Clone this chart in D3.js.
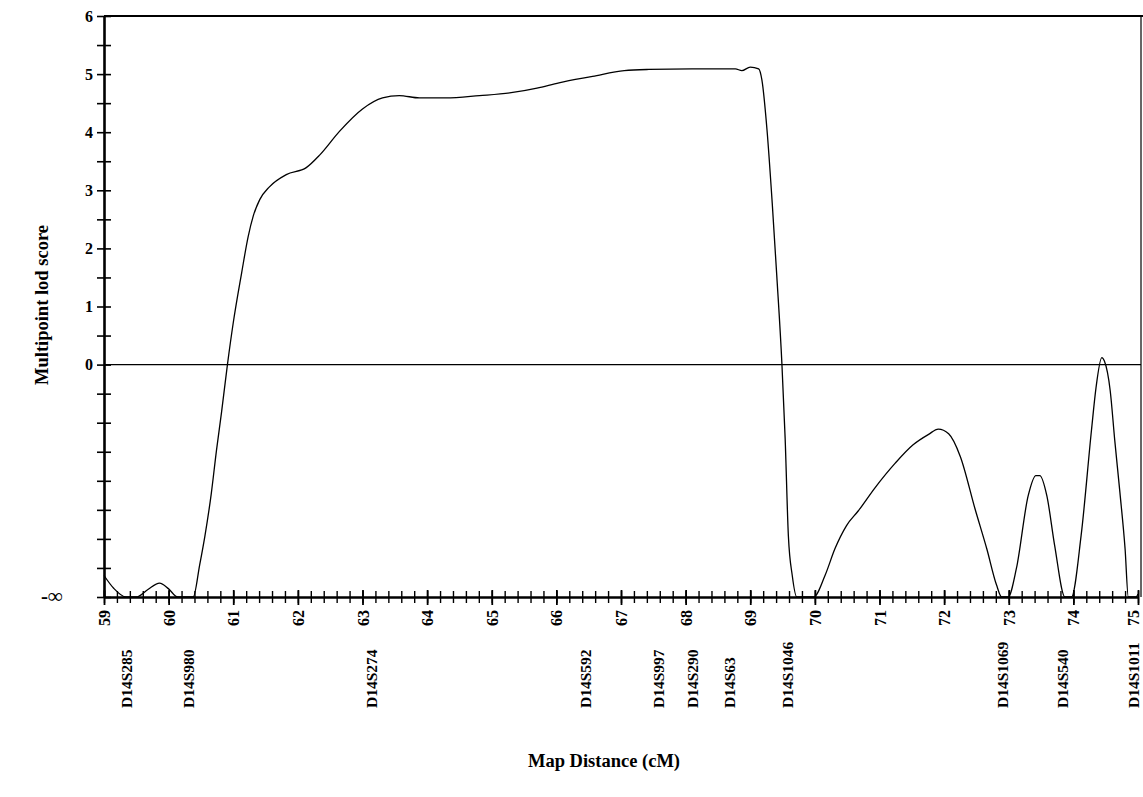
<!DOCTYPE html>
<html><head><meta charset="utf-8">
<script src="https://cdn.jsdelivr.net/npm/d3@7"></script>
<style>
body{margin:0;background:#fff}
text{font-family:"Liberation Serif","Times New Roman",serif;font-weight:bold;fill:#000}
</style>
</head><body><svg id="c" width="1143" height="797"></svg>
<script>
// Map positions (cM) and multipoint LOD scores; -Infinity marks the "-∞" floor
const positions = [59.00,59.15,59.34,59.50,59.68,59.86,60.00,60.14,60.38,60.48,60.56,60.66,60.74,60.82,60.91,61.00,61.13,61.23,61.31,61.41,61.56,61.82,62.13,62.34,62.64,63.00,63.31,63.57,63.88,64.29,64.81,65.30,65.70,66.04,66.56,67.05,67.43,68.10,68.77,68.87,69.00,69.13,69.18,69.26,69.34,69.41,69.49,69.54,69.59,69.65,69.72,69.98,70.16,70.31,70.49,70.67,70.93,71.24,71.52,71.76,71.91,72.07,72.25,72.48,72.66,72.81,72.89,72.99,73.12,73.30,73.42,73.48,73.59,73.71,73.87,73.97,74.12,74.28,74.35,74.44,74.48,74.57,74.64,74.72,74.80,74.85,74.97,75.00];
const lodScores = [-3.63,-3.85,-Infinity,-Infinity,-3.87,-3.76,-3.86,-Infinity,-Infinity,-3.45,-2.96,-2.22,-1.48,-0.81,0.00,0.72,1.58,2.20,2.56,2.84,3.06,3.27,3.39,3.61,4.01,4.40,4.59,4.63,4.59,4.59,4.63,4.68,4.76,4.85,4.96,5.06,5.08,5.09,5.09,5.06,5.12,5.09,4.90,4.03,2.78,1.54,0.01,-1.27,-2.95,-3.63,-Infinity,-Infinity,-3.62,-3.17,-2.77,-2.52,-2.12,-1.70,-1.38,-1.20,-1.11,-1.19,-1.58,-2.49,-3.17,-3.79,-Infinity,-Infinity,-3.50,-2.26,-1.91,-1.91,-2.26,-3.11,-Infinity,-Infinity,-2.94,-1.13,-0.40,0.12,0.06,-0.45,-1.30,-2.20,-3.17,-Infinity,-Infinity,-3.95];
const xTickLabels = [59,60,61,62,63,64,65,66,67,68,69,70,71,72,73,74,75];
const yTickLabels = [0,1,2,3,4,5,6];
const markerNames = ["D14S285","D14S980","D14S274","D14S592","D14S997","D14S290","D14S63","D14S1046","D14S1069","D14S540","D14S1011"];
const markerPositions = [59.35,60.31,63.14,66.45,67.58,68.11,68.68,69.58,72.90,73.83,74.93];

const FLOOR = -4;
const FONT = '"Liberation Serif","Times New Roman",serif';
const svg = d3.select("#c");
const x = d3.scaleLinear().domain([59, 75]).range([104, 1138]);
const y = d3.scaleLinear().domain([FLOOR, 6]).range([597, 16]);

// frame: top and right
svg.append("line").attr("x1", 104).attr("x2", 1143).attr("y1", y(6)).attr("y2", y(6))
  .attr("stroke", "#000").attr("stroke-width", 2.2);
svg.append("line").attr("x1", 1141).attr("x2", 1141).attr("y1", y(6)).attr("y2", y(FLOOR))
  .attr("stroke", "#000").attr("stroke-width", 1.2);

// zero line
svg.append("line").attr("x1", x(59)).attr("x2", 1141).attr("y1", y(0)).attr("y2", y(0))
  .attr("stroke", "#000").attr("stroke-width", 1.2);

// y axis
const yAxis = d3.axisLeft(y)
  .tickValues(d3.range(FLOOR, 6.001, 0.5))
  .tickSizeOuter(0).tickSize(0)
  .tickFormat(d => d === FLOOR ? "-\u221E" : (yTickLabels.includes(d) ? d : ""));
const gy = svg.append("g").attr("transform", `translate(${x(59)},0)`).call(yAxis);
gy.select(".domain").attr("stroke-width", 2.6).attr("stroke", "#000");
gy.selectAll(".tick line").attr("x1", -7).attr("x2", 7).attr("stroke-width", 1.6).attr("stroke", "#000");
gy.selectAll(".tick text").attr("x", -11).attr("font-size", 16)
  .style("font-family", FONT).style("font-weight", "bold");
gy.selectAll(".tick text").filter(d => d === FLOOR).attr("x", -41).attr("dy", "0.25em").attr("font-size", 21);

// x axis minor ticks
const xMinor = d3.axisBottom(x).tickValues(d3.range(59, 75.001, 0.2)).tickSizeOuter(0).tickSize(0).tickFormat("");
const gxm = svg.append("g").attr("transform", `translate(0,${y(FLOOR)})`).call(xMinor);
gxm.select(".domain").attr("stroke-width", 2.6).attr("stroke", "#000");
gxm.selectAll(".tick line").attr("y1", -6).attr("y2", 6).attr("stroke-width", 1.4).attr("stroke", "#000");

// x axis major ticks + labels
const xMajor = d3.axisBottom(x).tickValues(xTickLabels).tickSizeOuter(0).tickSize(0).tickFormat(d => d);
const gx = svg.append("g").attr("transform", `translate(0,${y(FLOOR)})`).call(xMajor);
gx.select(".domain").remove();
gx.selectAll(".tick line").attr("y1", -7).attr("y2", 8).attr("stroke-width", 1.8).attr("stroke", "#000");
gx.selectAll(".tick text")
  .attr("transform", "rotate(-90)")
  .attr("x", -13).attr("y", 0).attr("dy", d => d === 75 ? "0.05em" : "0.35em")
  .attr("text-anchor", "end").attr("font-size", 16)
  .style("font-family", FONT).style("font-weight", "bold");

// curve
const pts = positions.map((p, i) => [p, Math.max(lodScores[i], FLOOR)]);
const line = d3.line().x(d => x(d[0])).y(d => y(d[1])).curve(d3.curveMonotoneX);
svg.append("path").datum(pts).attr("d", line)
  .attr("fill", "none").attr("stroke", "#000").attr("stroke-width", 1.3);

// marker labels
svg.append("g").selectAll("text").data(markerNames).join("text")
  .attr("transform", (d, i) => `translate(${x(markerPositions[i])},708) rotate(-90)`)
  .attr("dy", "0.35em").attr("text-anchor", "start").attr("font-size", 15.5)
  .text(d => d);

// axis titles
svg.append("text").attr("transform", "translate(42,305) rotate(-90)")
  .attr("text-anchor", "middle").attr("dy", "0.35em").attr("font-size", 18.5)
  .text("Multipoint lod score");
svg.append("text").attr("x", 604).attr("y", 767)
  .attr("text-anchor", "middle").attr("font-size", 18.5)
  .text("Map Distance (cM)");
</script></body></html>
